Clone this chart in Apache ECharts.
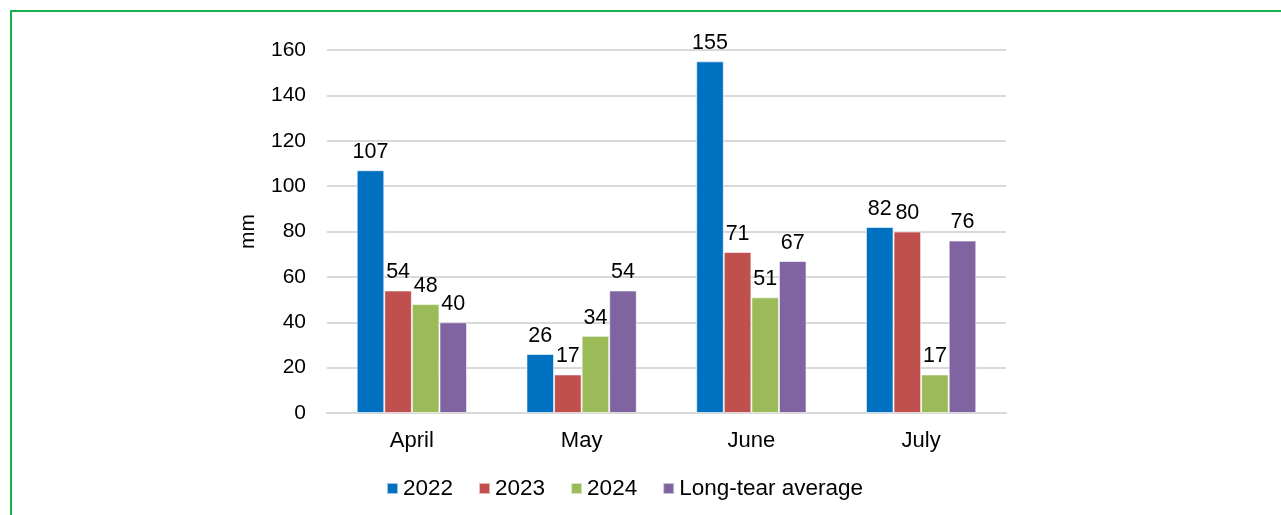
<!DOCTYPE html>
<html>
<head>
<meta charset="utf-8">
<script src="https://cdn.jsdelivr.net/npm/echarts@6/dist/echarts.min.js"></script>
<style>
    html, body { margin: 0; padding: 0; background: #fff; overflow: hidden; }
    #frame { position: absolute; left: 10px; top: 10px; width: 1400px; height: 700px; border: 2px solid #14b350; box-sizing: border-box; }
    #chart { position: absolute; left: 0; top: 0; width: 1281px; height: 515px; }
</style>
</head>
<body>
<div id="frame"></div>
<div id="chart"></div>
<script>
const months = ['April', 'May', 'June', 'July'];
const rain2022 = [107, 26, 155, 82];
const rain2023 = [54, 17, 71, 80];
const rain2024 = [48, 34, 51, 17];
const longTermAvg = [40, 54, 67, 76];

const seriesNames = ['2022', '2023', '2024', 'Long-tear average'];
const colors = ['#0070C0', '#C0504D', '#9BBB59', '#8064A2'];
const font = 'Liberation Sans, Arial, sans-serif';

const chart = echarts.init(document.getElementById('chart'));

const makeSeries = (name, data, color) => ({
    name,
    type: 'bar',
    data,
    barGap: '0%',
    barCategoryGap: '35%',
    itemStyle: {
        color,
        borderColor: 'rgba(255,255,255,0.6)',
        borderWidth: 1
    },
    label: {
        show: true,
        position: 'top',
        distance: 7,
        color: '#000',
        fontSize: 21.5,
        fontFamily: font
    }
});

chart.setOption({
    animation: false,
    grid: {
        left: 327,
        right: 275,
        top: 50,
        bottom: 102
    },
    legend: {
        bottom: 10,
        left: 381,
        itemWidth: 11,
        itemHeight: 11,
        itemGap: 25,
        icon: 'rect',
        textStyle: {
            color: '#000',
            fontSize: 22.5,
            fontFamily: font
        }
    },
    xAxis: {
        type: 'category',
        data: months,
        axisTick: { show: false },
        axisLine: {
            lineStyle: { color: '#d9d9d9', width: 2 }
        },
        axisLabel: {
            color: '#000',
            fontSize: 22,
            fontFamily: font,
            margin: 17
        }
    },
    yAxis: {
        type: 'value',
        min: 0,
        max: 160,
        interval: 20,
        name: 'mm',
        nameLocation: 'middle',
        nameGap: 68,
        nameRotate: 90,
        nameTextStyle: {
            color: '#000',
            fontSize: 21,
            fontFamily: font
        },
        axisLine: { show: false },
        axisTick: { show: false },
        splitLine: {
            lineStyle: { color: '#d9d9d9', width: 2 }
        },
        axisLabel: {
            color: '#000',
            fontSize: 21,
            fontFamily: font,
            margin: 21
        }
    },
    series: [
        makeSeries(seriesNames[0], rain2022, colors[0]),
        makeSeries(seriesNames[1], rain2023, colors[1]),
        makeSeries(seriesNames[2], rain2024, colors[2]),
        makeSeries(seriesNames[3], longTermAvg, colors[3])
    ]
});
</script>
</body>
</html>
